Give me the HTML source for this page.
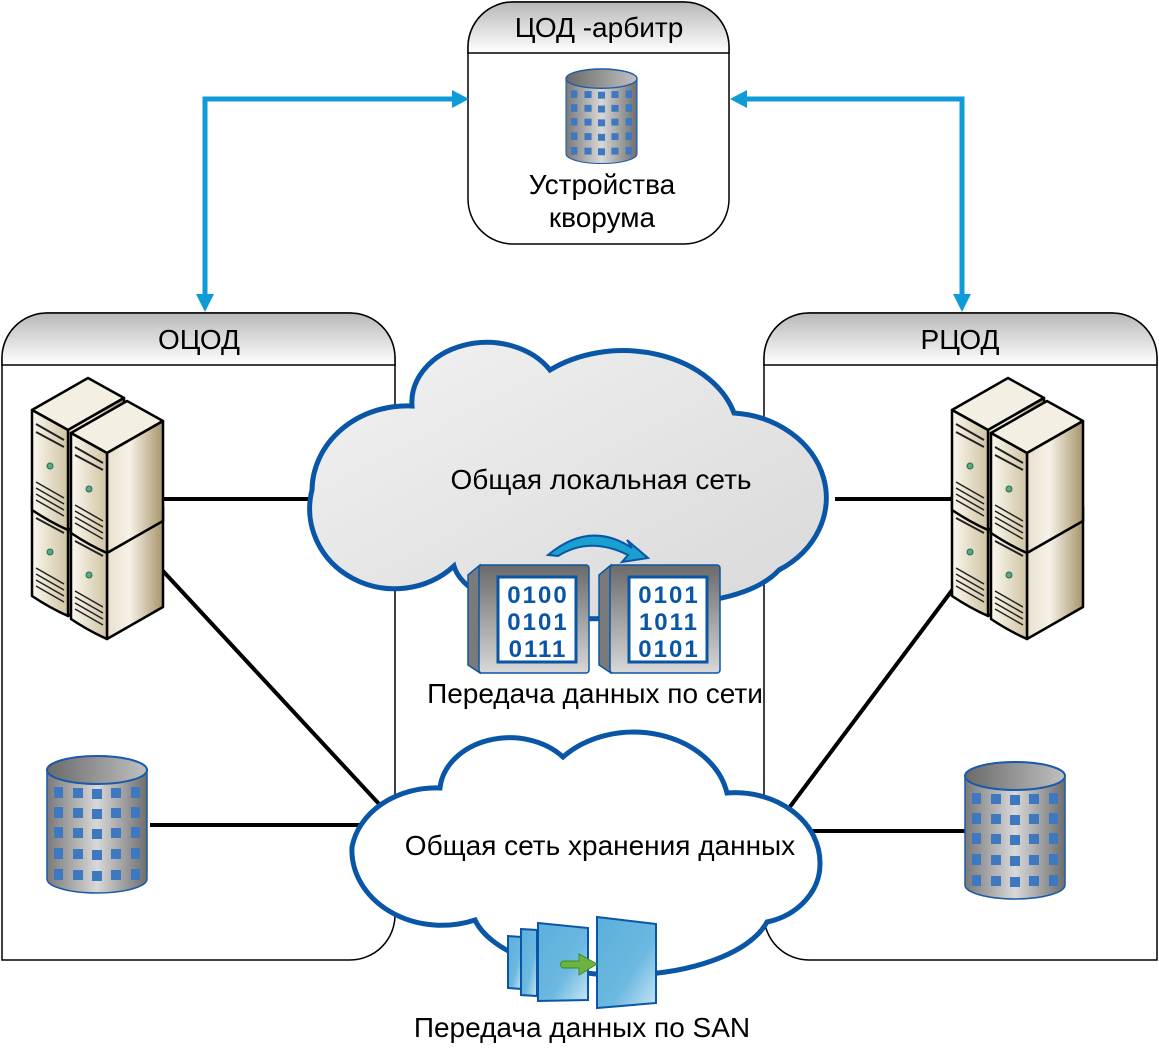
<!DOCTYPE html>
<html><head><meta charset="utf-8"><style>
html,body{margin:0;padding:0;background:#fff}
svg{display:block}
text{font-family:"Liberation Sans",sans-serif}
</style></head><body>
<svg width="1159" height="1057" viewBox="0 0 1159 1057" xmlns="http://www.w3.org/2000/svg">
<defs>
<linearGradient id="hdr" x1="0" y1="0" x2="0" y2="1"><stop offset="0" stop-color="#b8b8b8"/><stop offset="1" stop-color="#ffffff"/></linearGradient>
<linearGradient id="cyl" x1="0" y1="0" x2="1" y2="0"><stop offset="0" stop-color="#7a7a7a"/><stop offset="0.5" stop-color="#d8d8d8"/><stop offset="1" stop-color="#6e6e6e"/></linearGradient>
<linearGradient id="cyltop" x1="0" y1="0" x2="1" y2="0"><stop offset="0" stop-color="#6a6a6a"/><stop offset="1" stop-color="#c0c0c0"/></linearGradient>
<linearGradient id="cloud1" x1="0" y1="0" x2="1" y2="1"><stop offset="0" stop-color="#f2f2f2"/><stop offset="1" stop-color="#d8d8d8"/></linearGradient>
<linearGradient id="front" x1="0" y1="0" x2="1" y2="0"><stop offset="0" stop-color="#fbf8f0"/><stop offset="1" stop-color="#cfc3a2"/></linearGradient>
<linearGradient id="side" x1="0" y1="0" x2="1" y2="0"><stop offset="0" stop-color="#e8e0cc"/><stop offset="0.4" stop-color="#f6f2e8"/><stop offset="1" stop-color="#a8956a"/></linearGradient>
<linearGradient id="dbox" x1="0" y1="0" x2="0" y2="1"><stop offset="0" stop-color="#6a6a6a"/><stop offset="1" stop-color="#d8d8d8"/></linearGradient>
<linearGradient id="san" x1="0" y1="0" x2="1" y2="1"><stop offset="0" stop-color="#5ab0dc"/><stop offset="0.6" stop-color="#6cb8e0"/><stop offset="1" stop-color="#c8e6f4"/></linearGradient>
<g id="tower">
  <polygon points="0,0 56,-32 92,-12 36,20" fill="#f4efe3" stroke="#000" stroke-width="2.5" stroke-linejoin="round"/>
  <polygon points="36,20 92,-12 92,88 36,120" fill="url(#side)" stroke="#000" stroke-width="2.5" stroke-linejoin="round"/>
  <path d="M0,0 L36,20 L36,120 Q18,112 0,100 Z" fill="url(#front)" stroke="#000" stroke-width="2.5" stroke-linejoin="round"/>
  <path d="M4,14 L32,30 M4,22 L32,37" stroke="#222" stroke-width="2"/>
  <circle cx="18" cy="56" r="3" fill="#5aa888" stroke="#2a6a50"/>
  <path d="M4,72 L32,88 M4,78 L32,94 M4,84 L32,100 M4,90 L32,106" stroke="#222" stroke-width="1.5"/>
</g>
<g id="servers">
  <use href="#tower" x="32" y="496"/>
  <use href="#tower" x="71" y="519"/>
  <use href="#tower" x="32" y="410"/>
  <use href="#tower" x="71" y="433"/>
</g>
<g id="db">
  <path d="M0,14 L0,123 A50,14 0 0 0 100,123 L100,14 Z" fill="url(#cyl)" stroke="#1a5aa8" stroke-width="1.5"/>
  <ellipse cx="50" cy="14" rx="50" ry="14" fill="url(#cyltop)" stroke="#1a5aa8" stroke-width="2"/>
  <g fill="#3d78c0">
    <rect x="7" y="31" width="9" height="11"/><rect x="26" y="32" width="10" height="10"/><rect x="45" y="33" width="10" height="10"/><rect x="64" y="32" width="10" height="10"/><rect x="84" y="31" width="9" height="11"/>
    <rect x="7" y="51" width="9" height="11"/><rect x="26" y="52" width="10" height="10"/><rect x="45" y="53" width="10" height="10"/><rect x="64" y="52" width="10" height="10"/><rect x="84" y="51" width="9" height="11"/>
    <rect x="7" y="71" width="9" height="11"/><rect x="26" y="72" width="10" height="10"/><rect x="45" y="73" width="10" height="10"/><rect x="64" y="72" width="10" height="10"/><rect x="84" y="71" width="9" height="11"/>
    <rect x="7" y="92" width="9" height="11"/><rect x="26" y="93" width="10" height="10"/><rect x="45" y="94" width="10" height="10"/><rect x="64" y="93" width="10" height="10"/><rect x="84" y="92" width="9" height="11"/>
    <rect x="7" y="113" width="9" height="11"/><rect x="26" y="114" width="10" height="10"/><rect x="45" y="115" width="10" height="10"/><rect x="64" y="114" width="10" height="10"/><rect x="84" y="113" width="9" height="11"/>
  </g>
</g>
</defs>

<path d="M2,960 L2,358 A45,45 0 0 1 47,313 L350,313 A45,45 0 0 1 395,358 L395,915 A45,45 0 0 1 350,960 Z" fill="#fff" stroke="#000" stroke-width="1.5"/>
<path d="M2,365 L2,358 A45,45 0 0 1 47,313 L350,313 A45,45 0 0 1 395,358 L395,365 Z" fill="url(#hdr)" stroke="#000" stroke-width="1.5"/>
<path d="M764,915 L764,358 A45,45 0 0 1 809,313 L1112,313 A45,45 0 0 1 1157,358 L1157,960 L809,960 A45,45 0 0 1 764,915 Z" fill="#fff" stroke="#000" stroke-width="1.5"/>
<path d="M764,365 L764,358 A45,45 0 0 1 809,313 L1112,313 A45,45 0 0 1 1157,358 L1157,365 Z" fill="url(#hdr)" stroke="#000" stroke-width="1.5"/>
<path d="M468,199 L468,47 A45,45 0 0 1 513,2 L684,2 A45,45 0 0 1 729,47 L729,199 A45,45 0 0 1 684,244 L513,244 A45,45 0 0 1 468,199 Z" fill="#fff" stroke="#000" stroke-width="1.5"/>
<path d="M468,53 L468,47 A45,45 0 0 1 513,2 L684,2 A45,45 0 0 1 729,47 L729,53 Z" fill="url(#hdr)" stroke="#000" stroke-width="1.5"/>

<text x="199" y="349" font-size="28" text-anchor="middle">ОЦОД</text>
<text x="960" y="349" font-size="28" text-anchor="middle">РЦОД</text>
<text x="599" y="37" font-size="28" text-anchor="middle">ЦОД -арбитр</text>
<text x="602" y="194" font-size="28" text-anchor="middle">Устройства</text>
<text x="602" y="227" font-size="28" text-anchor="middle">кворума</text>

<g stroke="#0e9bd8" stroke-width="5" fill="none">
  <path d="M205,298 L205,99 L454,99"/>
  <path d="M962,298 L962,99 L745,99"/>
</g>
<g fill="#0e9bd8">
  <polygon points="196,294 214,294 205,312"/>
  <polygon points="452,90 452,108 469,99"/>
  <polygon points="953,294 971,294 962,312"/>
  <polygon points="747,90 747,108 730,99"/>
</g>

<g stroke="#000" stroke-width="4">
  <line x1="160" y1="499" x2="320" y2="499"/>
  <line x1="162" y1="570" x2="380" y2="805"/>
  <line x1="150" y1="825" x2="362" y2="825"/>
  <line x1="835" y1="499" x2="952" y2="499"/>
  <line x1="956" y1="585" x2="786" y2="812"/>
  <line x1="805" y1="831" x2="965" y2="831"/>
</g>

<use href="#servers"/>
<use href="#servers" x="920"/>
<use href="#db" transform="translate(566,69) scale(0.71,0.69)"/>
<use href="#db" transform="translate(47,756)"/>
<use href="#db" transform="translate(965,762)"/>

<path d="M412,406 A75,60 0 0 1 550,370 A115,85 0 0 1 734,413 A100,85 0 0 1 779,570 A110,55 0 0 1 690,602 A140,60 0 0 1 454,566 A85,80 0 0 1 312,490 A95,85 0 0 1 412,406 Z" fill="url(#cloud1)" stroke="#0a56a6" stroke-width="5"/>
<text x="601" y="489" font-size="28" text-anchor="middle">Общая локальная сеть</text>

<path d="M440,788 A70,55 0 0 1 563,757 A95,75 0 0 1 727,793 A85,70 0 0 1 820,863 A70,60 0 0 1 767,922 A150,70 0 0 1 475,920 A90,75 0 0 1 352,847 A85,70 0 0 1 440,788 Z" fill="#fff" stroke="#0a56a6" stroke-width="5"/>
<text x="600" y="855" font-size="28" text-anchor="middle">Общая сеть хранения данных</text>

<path d="M548,555 Q590,520 632,548 L627,540 L648,558 L622,562 L628,555 Q590,536 558,556 Z" fill="#1aa0d0" stroke="#0a56a6" stroke-width="2"/>
<g>
  <path d="M468,575 L480,565 L480,673 L468,665 Z" fill="#7a7a7a" stroke="#0a56a6" stroke-width="1.5"/>
  <rect x="479" y="565" width="110" height="108" rx="3" fill="url(#dbox)" stroke="#0a56a6" stroke-width="1.5"/>
  <rect x="498" y="577" width="78" height="85" fill="#fff" stroke="#0a56a6" stroke-width="3"/>
  <g font-family="Liberation Mono, monospace" font-weight="bold" font-size="24" fill="#0a56a6" text-anchor="middle">
    <text x="538" y="603" letter-spacing="2">0100</text>
    <text x="538" y="630" letter-spacing="2">0101</text>
    <text x="538" y="657" letter-spacing="2">0111</text>
  </g>
  <path d="M599,575 L611,565 L611,673 L599,665 Z" fill="#7a7a7a" stroke="#0a56a6" stroke-width="1.5"/>
  <rect x="610" y="565" width="110" height="108" rx="3" fill="url(#dbox)" stroke="#0a56a6" stroke-width="1.5"/>
  <rect x="629" y="577" width="78" height="85" fill="#fff" stroke="#0a56a6" stroke-width="3"/>
  <g font-family="Liberation Mono, monospace" font-weight="bold" font-size="24" fill="#0a56a6" text-anchor="middle">
    <text x="669" y="603" letter-spacing="2">0101</text>
    <text x="669" y="630" letter-spacing="2">1011</text>
    <text x="669" y="657" letter-spacing="2">0101</text>
  </g>
</g>
<text x="595" y="703" font-size="28" text-anchor="middle">Передача данных по сети</text>

<g stroke="#0a56a6" stroke-width="2" fill="url(#san)">
  <polygon points="508,936 522,937 522,989 508,988"/>
  <polygon points="521,929 537,930 537,996 521,995"/>
  <polygon points="538,923 588,928 588,1000 538,1001"/>
  <polygon points="597,917 656,924 656,1003 597,1008"/>
</g>
<path d="M564,961 L579,961 L579,954 L597,964 L579,975 L579,968 L564,968 A3.5,3.5 0 0 1 564,961 Z" fill="#6db33f" stroke="#3d8a2a" stroke-width="1"/>
<text x="582" y="1037" font-size="28" text-anchor="middle">Передача данных по SAN</text>
</svg>
</body></html>
